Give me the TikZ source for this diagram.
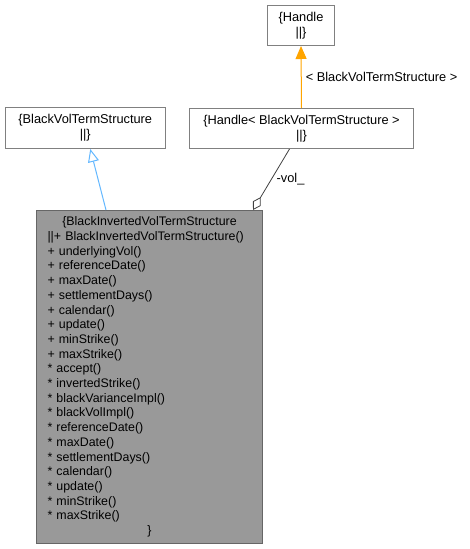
\documentclass[tikz,border=0pt]{standalone}
\usepackage{fontspec}
\setmainfont{Liberation Sans}
\usetikzlibrary{arrows.meta,calc}
\definecolor{boxborder}{HTML}{808080}
\definecolor{mainfill}{HTML}{999999}
\definecolor{mainborder}{HTML}{666666}
\definecolor{inheritblue}{HTML}{63B8FF}
\definecolor{tmplorange}{HTML}{FFA500}
\definecolor{usegrey}{HTML}{404040}
\tikzset{
  classbox/.style={draw=boxborder, line width=1pt, fill=white, anchor=north west, align=center, inner sep=2pt, font=\fontsize{12.8}{15}\selectfont},
  mainbox/.style={draw=mainborder, line width=1pt, fill=mainfill, anchor=north west, align=left, inner xsep=11pt, inner ysep=2pt},
  inheritline/.style={draw=inheritblue, line width=1pt, -{Triangle[open, length=13pt, width=11pt, fill=white]}},
  tmplline/.style={draw=tmplorange, line width=1pt, -{Triangle[length=13pt, width=11pt, fill=tmplorange]}},
  useline/.style={draw=usegrey, line width=0.8pt, {Diamond[open, length=15pt, width=9pt, fill=white]}-},
  edgelabel/.style={font=\fontsize{12.8}{14}\selectfont, inner sep=2pt}
}
\begin{document}
\begin{tikzpicture}[x=1pt, y=-1pt, font=\fontsize{12.4}{14.7}\selectfont]
\useasboundingbox[fill=white] (0,0) rectangle (469,549);

\node[classbox, minimum width=67pt, minimum height=40pt] (handle) at (267,5) {\{Handle\\||\}};
\node[classbox, minimum width=224pt, minimum height=40pt] (hbvts) at (189,108) {\{Handle< BlackVolTermStructure >\\||\}};
\node[classbox, minimum width=160.5pt, minimum height=41pt] (bvts) at (4.5,107) {\{BlackVolTermStructure\\||\}};

\node[mainbox, text width=204pt, minimum height=333pt] (main) at (36,210) {%
\makebox[\linewidth][c]{\{BlackInvertedVolTermStructure}\\
||+ BlackInvertedVolTermStructure()\\
+ underlyingVol()\\
+ referenceDate()\\
+ maxDate()\\
+ settlementDays()\\
+ calendar()\\
+ update()\\
+ minStrike()\\
+ maxStrike()\\
{*} accept()\\
{*} invertedStrike()\\
{*} blackVarianceImpl()\\
{*} blackVolImpl()\\
{*} referenceDate()\\
{*} maxDate()\\
{*} settlementDays()\\
{*} calendar()\\
{*} update()\\
{*} minStrike()\\
{*} maxStrike()\\
\makebox[\linewidth][c]{\}}};

\draw[inheritline] ($(main.north west)+(70,0)$) -- ($(bvts.south)+(5,0)$);
\draw[tmplline] (hbvts.north) -- node[edgelabel, anchor=west, xshift=2pt] {< BlackVolTermStructure >} (handle.south);
\draw[useline] ($(main.north east)+(-10,0)$) -- node[edgelabel, anchor=west, xshift=3pt] {-vol\_} ($(hbvts.south)+(-12,0)$);
\end{tikzpicture}
\end{document}
